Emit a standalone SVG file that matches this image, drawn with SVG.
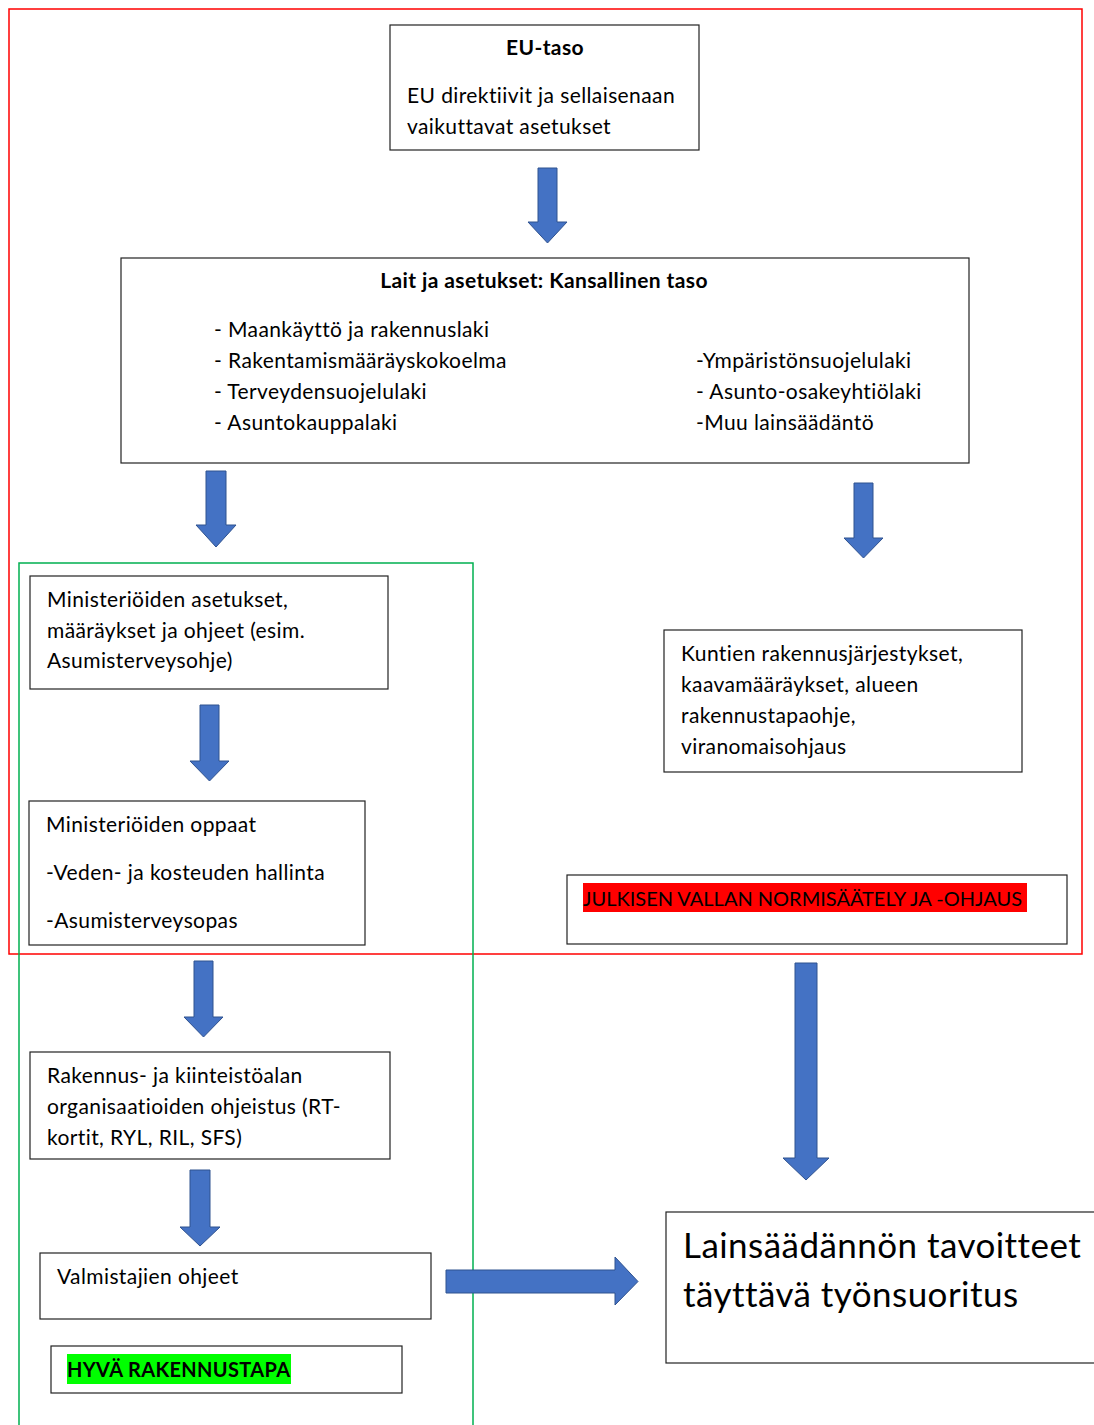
<svg xmlns="http://www.w3.org/2000/svg" width="1094" height="1425" viewBox="0 0 1094 1425">
  <style>
    .box { fill: #ffffff; stroke: #222222; stroke-width: 1.2; }
    .t { font-family: Lato, "Liberation Sans", sans-serif; font-size: 21px; letter-spacing: 0.4px; fill: #000000; }
    .b { font-weight: bold; }
    .caps { font-size: 20px; letter-spacing: 0; }
    .capsb { font-size: 20px; letter-spacing: 0.35px; }
    .big { font-size: 35px; letter-spacing: 0.45px; }
    .arrow { fill: #4472C4; stroke: #2F528F; stroke-width: 1; }
  </style>

  <!-- public regulation frame -->
  <rect x="9" y="9" width="1073" height="945" fill="none" stroke="#ff0000" stroke-width="1.5"/>
  <!-- good construction practice frame -->
  <rect x="19" y="563" width="454" height="880" fill="none" stroke="#00b050" stroke-width="1.5"/>

  <g id="eu">
    <rect class="box" x="390" y="25" width="309" height="125"/>
    <text class="t b" x="545" y="55" text-anchor="middle">EU-taso</text>
    <text class="t" x="407" y="103">EU direktiivit ja sellaisenaan</text>
    <text class="t" x="407" y="134">vaikuttavat asetukset</text>
  </g>

  <g id="kansallinen">
    <rect class="box" x="121" y="258" width="848" height="205"/>
    <text class="t b" x="544" y="288" text-anchor="middle">Lait ja asetukset: Kansallinen taso</text>
    <text class="t" x="214" y="337">- Maankäyttö ja rakennuslaki</text>
    <text class="t" x="214" y="368">- Rakentamismääräyskokoelma</text>
    <text class="t" x="214" y="399">- Terveydensuojelulaki</text>
    <text class="t" x="214" y="430">- Asuntokauppalaki</text>
    <text class="t" x="696" y="368">-Ympäristönsuojelulaki</text>
    <text class="t" x="696" y="399">- Asunto-osakeyhtiölaki</text>
    <text class="t" x="696" y="430">-Muu lainsäädäntö</text>
  </g>

  <g id="ministeriot">
    <rect class="box" x="30" y="576" width="358" height="113"/>
    <text class="t" x="47" y="607">Ministeriöiden asetukset,</text>
    <text class="t" x="47" y="638">määräykset ja ohjeet (esim.</text>
    <text class="t" x="47" y="668">Asumisterveysohje)</text>
  </g>

  <g id="oppaat">
    <rect class="box" x="29" y="801" width="336" height="144"/>
    <text class="t" x="46" y="832">Ministeriöiden oppaat</text>
    <text class="t" x="46" y="880">-Veden- ja kosteuden hallinta</text>
    <text class="t" x="46" y="928">-Asumisterveysopas</text>
  </g>

  <g id="kunnat">
    <rect class="box" x="664" y="630" width="358" height="142"/>
    <text class="t" x="681" y="661">Kuntien rakennusjärjestykset,</text>
    <text class="t" x="681" y="692">kaavamääräykset, alueen</text>
    <text class="t" x="681" y="723">rakennustapaohje,</text>
    <text class="t" x="681" y="754">viranomaisohjaus</text>
  </g>

  <g id="julkinen">
    <rect class="box" x="567" y="875" width="500" height="69"/>
    <rect x="583" y="883" width="444" height="29" fill="#ff0000"/>
    <text class="t caps" x="583" y="906">JULKISEN VALLAN NORMISÄÄTELY JA -OHJAUS</text>
  </g>

  <g id="alan-ohjeistus">
    <rect class="box" x="30" y="1052" width="360" height="107"/>
    <text class="t" x="47" y="1083">Rakennus- ja kiinteistöalan</text>
    <text class="t" x="47" y="1114">organisaatioiden ohjeistus (RT-</text>
    <text class="t" x="47" y="1145">kortit, RYL, RIL, SFS)</text>
  </g>

  <g id="valmistajat">
    <rect class="box" x="40" y="1253" width="391" height="66"/>
    <text class="t" x="57" y="1284">Valmistajien ohjeet</text>
  </g>

  <g id="hyva-rakennustapa">
    <rect class="box" x="51" y="1346" width="351" height="47"/>
    <rect x="67" y="1354" width="224" height="30" fill="#00ff00"/>
    <text class="t b capsb" x="67" y="1377">HYVÄ RAKENNUSTAPA</text>
  </g>

  <g id="tyonsuoritus">
    <rect class="box" x="666" y="1212" width="440" height="151"/>
    <text class="t big" x="683" y="1258">Lainsäädännön tavoitteet</text>
    <text class="t big" x="683" y="1307">täyttävä työnsuoritus</text>
  </g>

  <g id="connectors">
    <!-- EU -> national -->
    <polygon class="arrow" points="538,168 557,168 557,222 567,222 547.5,243 528,222 538,222"/>
    <!-- national -> ministries -->
    <polygon class="arrow" points="206,471 226,471 226,525 236,525 216,547 196,525 206,525"/>
    <!-- national -> municipalities -->
    <polygon class="arrow" points="854,483 873,483 873,538 883,538 863.5,558 844,538 854,538"/>
    <!-- ministries -> guides -->
    <polygon class="arrow" points="200,705 219,705 219,761 229,761 209.5,781 190,761 200,761"/>
    <!-- guides -> industry guidance -->
    <polygon class="arrow" points="194,961 213,961 213,1017 223,1017 203.5,1037 184,1017 194,1017"/>
    <!-- industry guidance -> manufacturers -->
    <polygon class="arrow" points="190,1170 210,1170 210,1227 220,1227 200,1246 180,1227 190,1227"/>
    <!-- public regulation -> work performance -->
    <polygon class="arrow" points="795,963 817,963 817,1158 829,1158 806,1180 783,1158 795,1158"/>
    <!-- good practice -> work performance -->
    <polygon class="arrow" points="446,1270 615,1270 615,1257 638,1281.5 615,1305 615,1293 446,1293"/>
  </g>
</svg>
